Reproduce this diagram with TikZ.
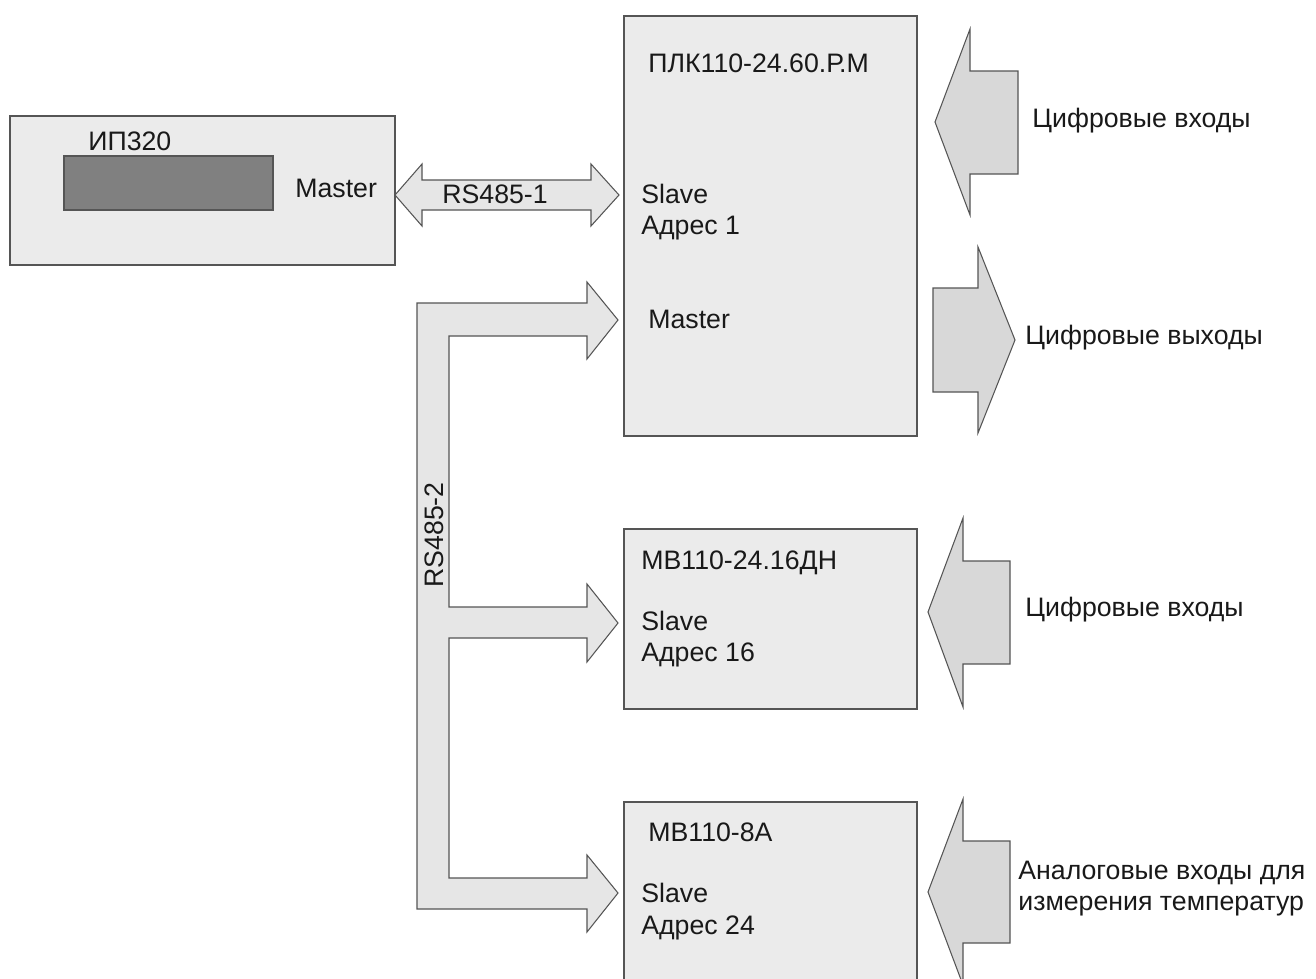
\documentclass[tikz,border=0pt]{standalone}
\usepackage{fontspec}
\setmainfont{Liberation Sans}
\usepackage{tikz}
\definecolor{grisCaja}{HTML}{EBEBEB}
\definecolor{grisFlecha}{HTML}{D8D8D8}
\definecolor{grisBus}{HTML}{E6E6E6}
\definecolor{grisBorde}{HTML}{555555}
\definecolor{grisPantalla}{HTML}{808080}

\begin{document}
\begin{tikzpicture}[x=0.02cm,y=-0.02cm,
    caja/.style={draw=grisBorde,fill=grisCaja,line width=0.7pt,inner sep=0pt},
    flecha/.style={draw=grisBorde,fill=grisFlecha,line width=0.6pt,line join=miter},
    bus/.style={draw=grisBorde,fill=grisBus,line width=0.6pt},
    texto/.style={anchor=base west,inner sep=0pt,text=black!90,font=\fontsize{15.2}{18}\selectfont}]
    \clip (0,0) rectangle (1316,978);
    \fill[white] (0,0) rectangle (1316,978);

    % bloques
    \node[caja,minimum width=7.7cm,minimum height=2.98cm] (ip) at (202.5,190.5) {};
    \node[caja,fill=grisPantalla,minimum width=4.18cm,minimum height=1.08cm] (pantalla) at (168.5,183) {};
    \node[caja,minimum width=5.86cm,minimum height=8.4cm] (plc) at (770.5,226) {};
    \node[caja,minimum width=5.86cm,minimum height=3.6cm] (mb16) at (770.5,619) {};
    \node[caja,minimum width=5.86cm,minimum height=4.2cm] (mb8) at (770.5,907) {};

    % RS485-1
    \draw[bus] (395,195) -- (422,164) -- (422,180) -- (591,180) -- (591,164) -- (619,195)
      -- (591,226) -- (591,210) -- (422,210) -- (422,226) -- cycle;
    % RS485-2
    \draw[bus] (417,303) -- (587,303) -- (587,282) -- (618,320) -- (587,359) -- (587,336)
      -- (449,336) -- (449,607) -- (587,607) -- (587,584) -- (618,623) -- (587,662) -- (587,638)
      -- (449,638) -- (449,878) -- (587,878) -- (587,855) -- (618,893) -- (587,932) -- (587,909)
      -- (417,909) -- cycle;

    % entradas / salidas
    \draw[flecha] (935,122) -- (970,29) -- (970,71) -- (1018,71) -- (1018,174) -- (970,174) -- (970,215) -- cycle;
    \draw[flecha] (933,288) -- (978,288) -- (978,247) -- (1015,340) -- (978,433) -- (978,392) -- (933,392) -- cycle;
    \draw[flecha] (928,612) -- (963,518) -- (963,561) -- (1010,561) -- (1010,664) -- (963,664) -- (963,707) -- cycle;
    \draw[flecha] (928,892) -- (963,799) -- (963,841) -- (1010,841) -- (1010,943) -- (963,943) -- (963,985) -- cycle;

    % textos
    \node[texto] (ipNombre) at (88,150) {ИП320};
    \node[texto] (ipMaster) at (295,197) {Master};
    \node[texto] (rs1) at (442,203) {RS485-1};
    \node[texto,anchor=base,rotate=90] (rs2) at (443,535) {RS485-2};

    \node[texto] (plcNombre) at (648,72) {ПЛК110-24.60.Р.М};
    \node[texto] (plcSlave) at (641,203) {Slave};
    \node[texto] (plcAdr) at (641,234) {Адрес 1};
    \node[texto] (plcMaster) at (648,328) {Master};

    \node[texto] (mb16Nombre) at (641,569) {МВ110-24.16ДН};
    \node[texto] (mb16Slave) at (641,630) {Slave};
    \node[texto] (mb16Adr) at (641,661) {Адрес 16};

    \node[texto] (mb8Nombre) at (648,841) {МВ110-8А};
    \node[texto] (mb8Slave) at (641,902) {Slave};
    \node[texto] (mb8Adr) at (641,934) {Адрес 24};

    \node[texto] (di1) at (1032,127) {Цифровые входы};
    \node[texto] (do1) at (1025,344) {Цифровые выходы};
    \node[texto] (di2) at (1025,616) {Цифровые входы};
    \node[texto] (ai) at (1018,879) {Аналоговые входы для};
    \node[texto] (ai2) at (1018,910) {измерения температур};
  \end{tikzpicture}
\end{document}
